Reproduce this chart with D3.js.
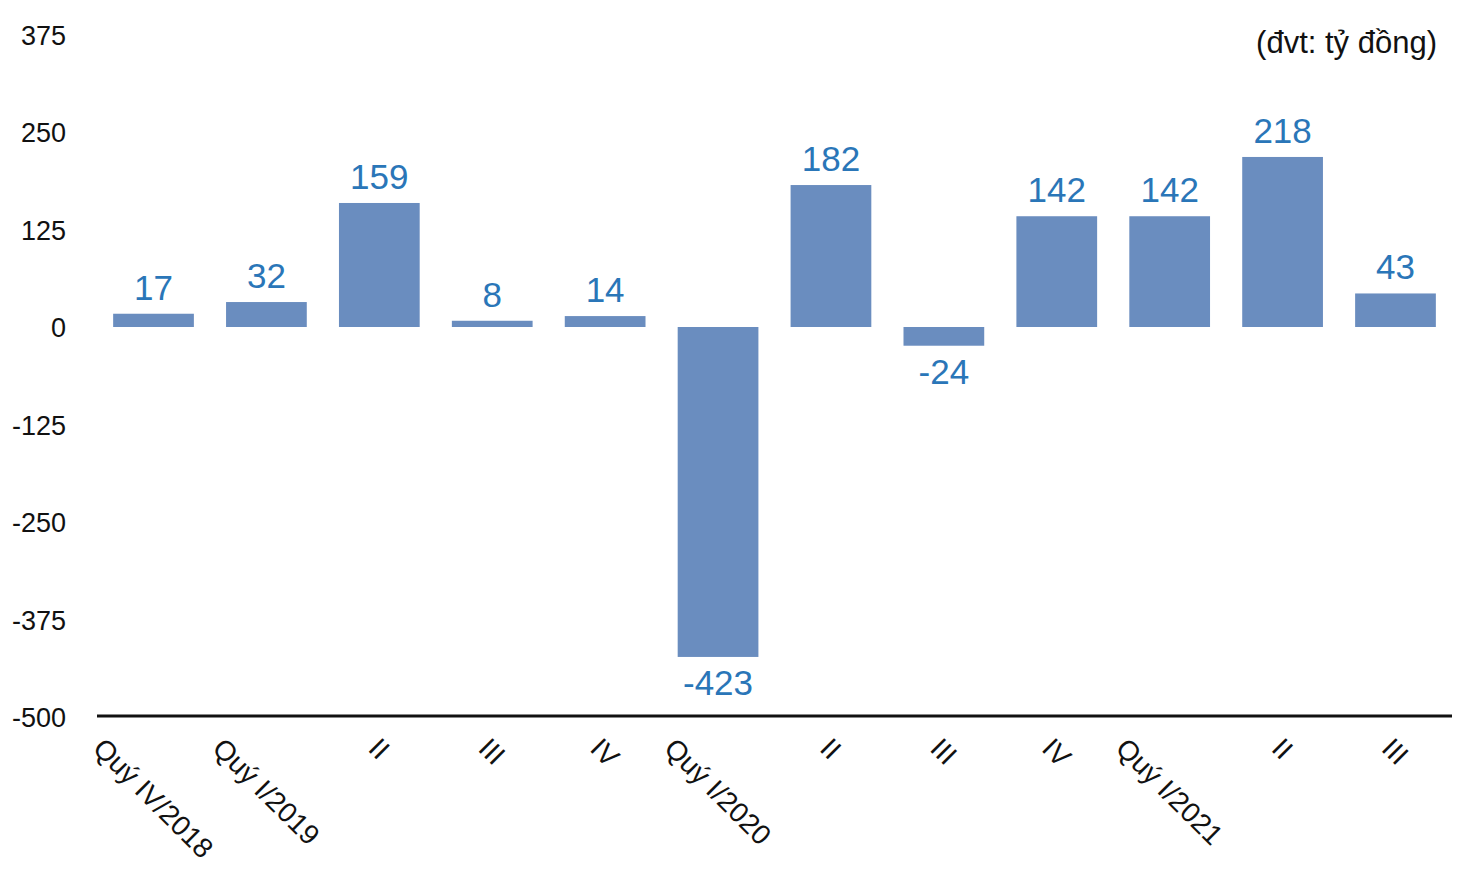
<!DOCTYPE html>
<html>
<head>
<meta charset="utf-8">
<script src="https://cdn.jsdelivr.net/npm/d3@7/dist/d3.min.js"></script>
<style>
  html, body { margin: 0; padding: 0; background: #fff; }
  svg { display: block; font-family: "Liberation Sans", Arial, Helvetica, sans-serif; }
</style>
</head>
<body>
<svg id="chart" width="1476" height="871"></svg>
<script>
const categories = ["Quý IV/2018", "Quý I/2019", "II", "III", "IV", "Quý I/2020", "II", "III", "IV", "Quý I/2021", "II", "III"];
const values = [17, 32, 159, 8, 14, -423, 182, -24, 142, 142, 218, 43];
const yTicks = [375, 250, 125, 0, -125, -250, -375, -500];
const unitLabel = "(đvt: tỷ đồng)";

const svg = d3.select("#chart");

const x = d3.scaleBand()
  .domain(d3.range(categories.length))
  .range([97, 1452])
  .paddingInner(0.285)
  .paddingOuter(0.143);

const y = d3.scaleLinear().domain([-500, 375]).range([717, 34.5]);

// y tick labels
const yAxis = d3.axisLeft(y).tickValues(yTicks).tickSize(0).tickPadding(0).tickFormat(d => String(d));
const gy = svg.append("g").attr("transform", "translate(66,0)").call(yAxis);
gy.select(".domain").remove();
gy.selectAll("text")
  .attr("font-size", 27)
  .attr("fill", "#111")
  .attr("font-family", "'Liberation Sans', Arial, sans-serif")
  .attr("dy", "0.36em");

// bars
svg.append("g").selectAll("rect")
  .data(values)
  .join("rect")
  .attr("x", (d, i) => x(i))
  .attr("width", x.bandwidth())
  .attr("y", d => y(Math.max(0, d)))
  .attr("height", d => Math.abs(y(d) - y(0)))
  .attr("fill", "#6a8dbf");

// value labels
svg.append("g").selectAll("text")
  .data(values)
  .join("text")
  .attr("x", (d, i) => x(i) + x.bandwidth() / 2)
  .attr("y", d => d >= 0 ? y(d) - 14 : y(d) + 38)
  .attr("text-anchor", "middle")
  .attr("font-size", 35)
  .attr("fill", "#2a76b8")
  .text(d => d);

// x axis line
const xAxis = d3.axisBottom(x).tickSize(0).tickFormat("");
const gx = svg.append("g").attr("transform", "translate(0,716)").call(xAxis);
gx.select(".domain").attr("stroke", "#111").attr("stroke-width", 3).attr("d", "M97,0H1452");

// rotated category labels
const labG = svg.append("g");
categories.forEach((c, i) => {
  const cx = x(i) + x.bandwidth() / 2;
  const t = labG.append("text")
    .attr("text-anchor", "middle")
    .attr("font-size", 28)
    .attr("fill", "#111")
    .attr("dy", "0.35em")
    .text(c);
  const w = t.node().getComputedTextLength();
  const cy = 740 + (w / 2) * Math.SQRT1_2 + 3;
  t.attr("transform", `translate(${cx},${cy}) rotate(45)`);
});

// unit label
svg.append("text")
  .attr("x", 1437)
  .attr("y", 53)
  .attr("text-anchor", "end")
  .attr("font-size", 31)
  .attr("fill", "#111")
  .text(unitLabel);
</script>
</body>
</html>
